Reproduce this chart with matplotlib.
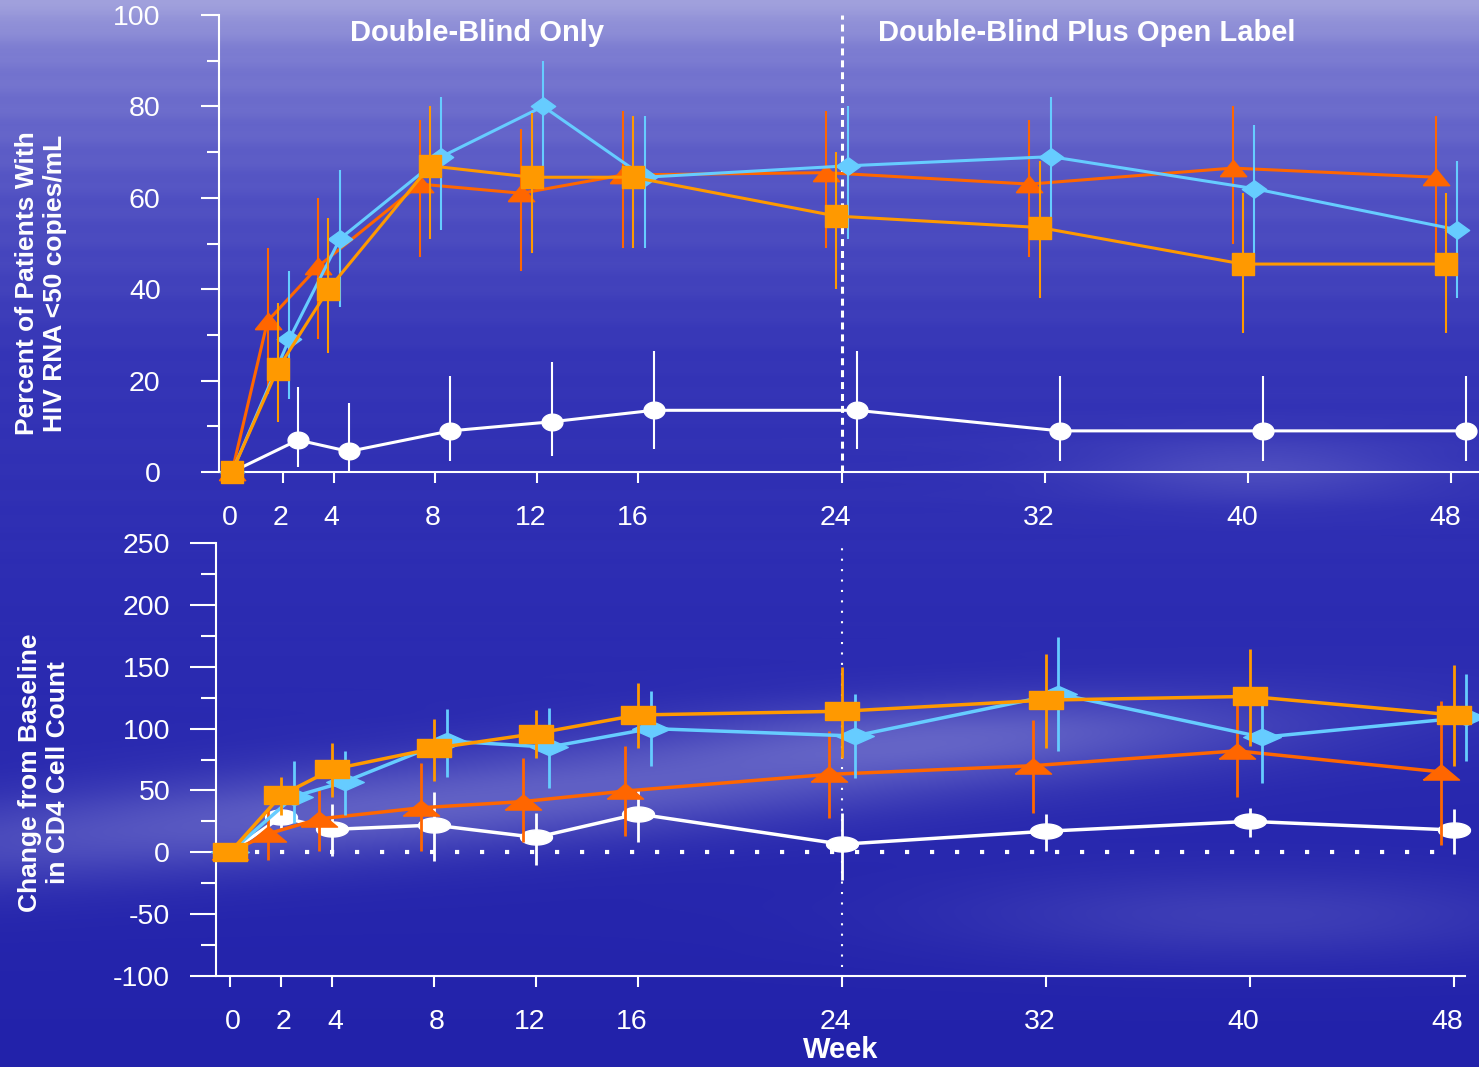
import numpy as np
import matplotlib
matplotlib.use('Agg')
import matplotlib.pyplot as plt
from matplotlib.path import Path
from matplotlib.markers import MarkerStyle
from matplotlib.ticker import MultipleLocator
from matplotlib.transforms import ScaledTranslation

plt.rcParams['font.family'] = ['Liberation Sans', 'DejaVu Sans']
plt.rcParams['axes.unicode_minus'] = False

# ---- data ----
weeks = [0, 2, 4, 8, 12, 16, 24, 32, 40, 48]

# percent with HIV RNA < 50 copies/mL (value, lower CI, upper CI)
rna_tri = [0, 33, 45, 63, 61, 65, 65.5, 63, 66.5, 64.5]
rna_tri_lo = [0, 17, 29, 47, 44, 49, 49, 47, 50, 48]
rna_tri_hi = [0, 49, 60, 77, 75, 79, 79, 77, 80, 78]

rna_dia = [0, 29, 51, 69, 80, 64.5, 67, 69, 62, 53]
rna_dia_lo = [0, 16, 36, 53, 66, 49, 51, 52, 47, 38]
rna_dia_hi = [0, 44, 66, 82, 90, 78, 80, 82, 76, 68]

rna_sq = [0, 22.5, 40, 67, 64.5, 64.5, 56, 53.5, 45.5, 45.5]
rna_sq_lo = [0, 11, 26, 51, 48, 49, 40, 38, 30.5, 30.5]
rna_sq_hi = [0, 37, 55.5, 80, 78.5, 78, 70, 68, 61, 61]

rna_circ = [0, 7, 4.5, 9, 11, 13.5, 13.5, 9, 9, 9]
rna_circ_lo = [0, 1, 0, 2.5, 3.5, 5, 5, 2.5, 2.5, 2.5]
rna_circ_hi = [0, 18.5, 15, 21, 24, 26.5, 26.5, 21, 21, 21]

# change from baseline in CD4 cell count
cd4_tri = [0, 15, 27, 36, 41, 49.5, 63, 70, 82, 65]
cd4_tri_lo = [0, -6, 1, 1, 8, 13, 28, 32, 45, 6]
cd4_tri_hi = [0, 35, 52, 72, 76, 86, 98, 107, 119, 122]

cd4_dia = [0, 45, 57, 90, 85, 100, 94, 128, 93, 109]
cd4_dia_lo = [0, 24, 30, 61, 52, 70, 60, 82, 56, 74]
cd4_dia_hi = [0, 74, 82, 116, 117, 130, 128, 174, 126, 144]

cd4_sq = [0, 46, 67, 84, 96, 111, 114, 123, 126, 111]
cd4_sq_lo = [0, 30, 45, 58, 76, 84, 76, 84, 86, 70]
cd4_sq_hi = [0, 61, 88, 108, 115, 137, 150, 160, 164, 151]

cd4_circ = [0, 28.5, 18.5, 22, 12, 31, 6.5, 17, 25, 18]
cd4_circ_lo = [0, 20, -3, -7, -10, 8, -22, 1, 12, -1]
cd4_circ_hi = [0, 37, 39, 49, 32, 51, 32, 31, 36, 35]

# ---- styles ----
C_TRI = '#FF6600'
C_DIA = '#66CCFF'
C_SQ = '#FF9900'
C_CIRC = '#FFFFFF'


def shape(kind, r):
    if kind == 'rect':
        v = [(-1, -r), (1, -r), (1, r), (-1, r), (-1, -r)]
    elif kind == 'diamond':
        v = [(0, -r), (1, 0), (0, r), (-1, 0), (0, -r)]
    elif kind == 'tri':
        v = [(-1, -r), (1, -r), (0, r), (-1, -r)]
    else:
        t = np.linspace(0, 2 * np.pi, 61)
        v = np.column_stack([np.cos(t), r * np.sin(t)])
    return MarkerStyle(Path(v))


def draw(ax, vals, lo, hi, color, marker, ms, off, lw, elw, z):
    w = np.array(weeks, dtype=float)
    x = np.where(w > 0, w + off, w)
    ax.vlines(x[1:], np.array(lo)[1:], np.array(hi)[1:], color=color, lw=elw, zorder=z, clip_on=False)
    ax.plot(x, vals, color=color, lw=lw, marker=marker, ms=ms, mec=color, mfc=color,
            zorder=z + 0.5, clip_on=False)


# ---- figure & background ----
fig = plt.figure(figsize=(14.79, 10.67), dpi=100)
bg = fig.add_axes([0, 0, 1, 1], zorder=-10)
yy, xx = np.mgrid[0:1:270j, 0:1:370j]
stops = [0, 0.05, 0.18, 0.33, 0.55, 1.0]
r_ch = np.interp(yy, stops, [160, 120, 80, 52, 44, 34])
g_ch = np.interp(yy, stops, [160, 120, 80, 52, 44, 34])
b_ch = np.interp(yy, stops, [220, 208, 194, 182, 178, 170])
base = np.dstack([r_ch, g_ch, b_ch])
streak = 0.12 * (0.5 + 0.5 * np.sin(yy * 260)) * np.exp(-yy / 0.2)
band1 = 0.42 * np.exp(-((yy - (0.79 - 0.12 * xx)) / 0.045) ** 2) * np.exp(-((xx - 0.3) / 0.45) ** 2)
band2 = 0.25 * np.exp(-((yy - (0.72 - 0.05 * xx)) / 0.035) ** 2) * np.exp(-((xx - 0.65) / 0.2) ** 2)
band3 = 0.22 * np.exp(-((yy - 0.44) / 0.03) ** 2) * np.exp(-((xx - 0.85) / 0.12) ** 2)
band4 = 0.18 * np.exp(-((yy - 0.86) / 0.04) ** 2) * np.exp(-((xx - 0.85) / 0.2) ** 2)
a = np.clip(streak + band1 + band2 + band3 + band4, 0, 1)[..., None]
light = np.array([175, 175, 228])
img = (base * (1 - a) + light * a) / 255.0
bg.imshow(img, aspect='auto', extent=[0, 1, 0, 1], interpolation='bilinear')
bg.axis('off')

# ---- axes ----
ax1 = fig.add_axes([219 / 1479, 1 - 472 / 1067, 1 - 219 / 1479, (472 - 15) / 1067])
ax2 = fig.add_axes([216 / 1479, 1 - 976 / 1067, (1465 - 216) / 1479, (976 - 543) / 1067])

for ax, small_dx in ((ax1, -2), (ax2, 3)):
    ax.patch.set_alpha(0)
    for s in ('top', 'right'):
        ax.spines[s].set_visible(False)
    for s in ('left', 'bottom'):
        ax.spines[s].set_color('white')
        ax.spines[s].set_linewidth(1.5)
    ax.set_xticks(weeks)
    ax.set_xticklabels([str(w) for w in weeks])
    ax.tick_params(axis='both', which='both', colors='white', width=1.5, labelsize=20.5)
    ax.tick_params(axis='x', length=8, pad=16)
    # week labels sit a little off their ticks in the original
    for lab, w in zip(ax.get_xticklabels(), weeks):
        dx = -6 if w >= 10 else small_dx
        lab.set_transform(lab.get_transform() + ScaledTranslation(dx / 100, 0, fig.dpi_scale_trans))

# ---- top panel ----
ax1.set_xlim(-0.51, 49.1)
ax1.set_ylim(0, 100)
ax1.yaxis.set_major_locator(MultipleLocator(20))
ax1.yaxis.set_minor_locator(MultipleLocator(10))
ax1.tick_params(axis='y', which='major', length=13, pad=29)
ax1.tick_params(axis='y', which='minor', length=8.5)
ax1.axvline(24, color='white', lw=2.2, ls=(0, (2.3, 1.6)), zorder=2)

draw(ax1, rna_circ, rna_circ_lo, rna_circ_hi, C_CIRC, shape('ell', 0.8), 15, 0.6, 2.2, 1.5, 3)
draw(ax1, rna_tri, rna_tri_lo, rna_tri_hi, C_TRI, shape('tri', 0.62), 19, -0.6, 2.2, 1.5, 4)
draw(ax1, rna_dia, rna_dia_lo, rna_dia_hi, C_DIA, shape('diamond', 0.72), 17.5, 0.25, 2.2, 1.5, 5)
draw(ax1, rna_sq, rna_sq_lo, rna_sq_hi, C_SQ, shape('rect', 1.0), 16, -0.2, 2.2, 1.5, 6)

# ---- bottom panel ----
ax2.set_xlim(-0.55, 48.45)
ax2.set_ylim(-100, 250)
ax2.yaxis.set_major_locator(MultipleLocator(50))
ax2.yaxis.set_minor_locator(MultipleLocator(25))
ax2.tick_params(axis='y', which='major', length=19, pad=14)
ax2.tick_params(axis='y', which='minor', length=11)
ax2.plot([0, 48], [0, 0], color='white', lw=3, ls=(0, (1, 5)), zorder=2)
ax2.axvline(24, ymin=0.02, ymax=1.0, color='white', lw=1.5, ls=(0, (1, 4)), zorder=2)

draw(ax2, cd4_circ, cd4_circ_lo, cd4_circ_hi, C_CIRC, shape('ell', 0.47), 23, 0.0, 2.5, 2, 3)
draw(ax2, cd4_sq, cd4_sq_lo, cd4_sq_hi, C_SQ, shape('rect', 0.5), 24.5, 0.0, 2.5, 2, 6)
draw(ax2, cd4_dia, cd4_dia_lo, cd4_dia_hi, C_DIA, shape('diamond', 0.44), 27, 0.5, 2.5, 2, 5)
draw(ax2, cd4_tri, cd4_tri_lo, cd4_tri_hi, C_TRI, shape('tri', 0.42), 26, -0.5, 2.5, 2, 4)

# ---- labels & titles ----
fig.text(41 / 1479, 1 - 283 / 1067, 'Percent of Patients With\nHIV RNA <50 copies/mL',
         color='white', fontsize=19, fontweight='bold', rotation=90, ha='center',
         va='center', multialignment='center', linespacing=1.2)
fig.text(44 / 1479, 1 - 773 / 1067, 'Change from Baseline\nin CD4 Cell Count',
         color='white', fontsize=19, fontweight='bold', rotation=90, ha='center',
         va='center', multialignment='center', linespacing=1.2)
fig.text(477 / 1479, 1 - 33 / 1067, 'Double-Blind Only', color='white', fontsize=21,
         fontweight='bold', ha='center', va='center')
fig.text(1087 / 1479, 1 - 33 / 1067, 'Double-Blind Plus Open Label', color='white',
         fontsize=21, fontweight='bold', ha='center', va='center')
fig.text(841 / 1479, 1 - 1050 / 1067, 'Week', color='white', fontsize=21,
         fontweight='bold', ha='center', va='center')

fig.savefig('out.png', dpi=100)
